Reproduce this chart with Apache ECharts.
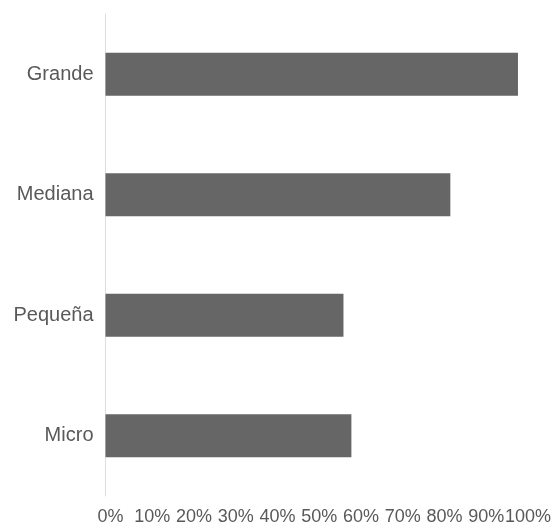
<!DOCTYPE html>
<html>
<head>
<meta charset="utf-8">
<script src="https://cdn.jsdelivr.net/npm/echarts@6/dist/echarts.min.js"></script>
<style>
html,body{margin:0;padding:0;background:#fff;}
#chart{width:554px;height:526px;}
</style>
</head>
<body>
<div id="chart"></div>
<script>
const categories = ['Micro', 'Pequeña', 'Mediana', 'Grande'];
const values = [58.9, 57.0, 82.6, 98.8];
const tickMin = 0, tickMax = 100, tickStep = 10;

const chart = echarts.init(document.getElementById('chart'), null, {renderer: 'canvas'});
const font = '"Liberation Sans", Arial, Helvetica, sans-serif';
chart.setOption({
  animation: false,
  grid: {left: 105.5, right: 29.5, top: 14, bottom: 27, containLabel: false},
  xAxis: {
    type: 'value', min: tickMin, max: tickMax, interval: tickStep,
    axisLine: {show: false}, axisTick: {show: false}, splitLine: {show: false},
    axisLabel: {formatter: '{value}%', color: '#595959', fontSize: 18, fontFamily: font, margin: 12, padding: [0, 0, 0, 10]}
  },
  yAxis: {
    type: 'category', data: categories,
    axisLine: {show: true, lineStyle: {color: '#dddddd', width: 1}},
    axisTick: {show: false},
    axisLabel: {color: '#595959', fontSize: 20, fontFamily: font, margin: 12}
  },
  series: [{
    type: 'bar', data: values, barWidth: 43,
    itemStyle: {color: '#666666'}
  }]
});
</script>
</body>
</html>
